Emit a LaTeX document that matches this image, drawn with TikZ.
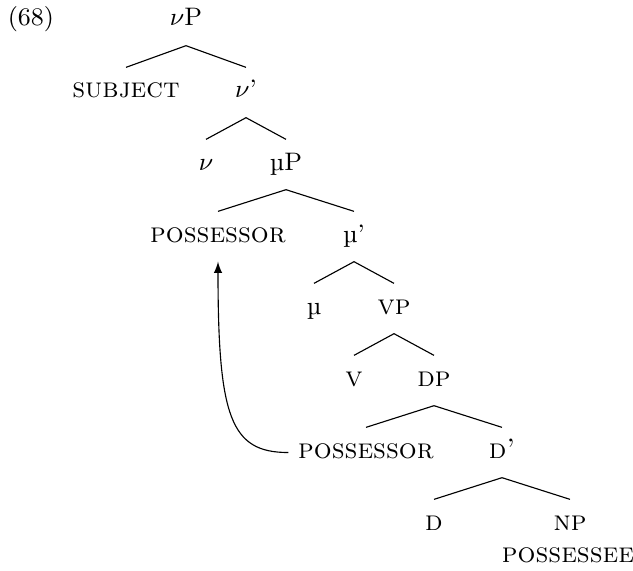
\documentclass[tikz,border=0pt]{standalone}
\newcommand{\lsc}[1]{{\normalsize\textsc{#1}}}
\tikzset{
	lbl/.style={anchor=base, text height=7.7pt, text depth=3.8pt, inner ysep=3pt},
}
\begin{document}
\begin{tikzpicture}[font=\small]
		\useasboundingbox (0,0) rectangle (7.9125,7.125);

		\node [anchor=base west, inner sep=0pt] (ex) at (0.09,6.8) {(68)};

		\node [lbl] (vP)    at (2.325,6.8) {$\nu$P};
		\node [lbl] (subj)  at (1.575,5.9) {\lsc{subject}};
		\node [lbl] (vbar)  at (3.075,5.9) {$\nu$'};
		\node [lbl] (v)     at (2.575,5.0) {$\nu$};
		\node [lbl] (muP)   at (3.575,5.0) {\textmu P};
		\node [lbl] (poss1) at (2.725,4.1) {\lsc{possessor}};
		\node [lbl] (mubar) at (4.425,4.1) {\textmu'};
		\node [lbl] (mu)    at (3.925,3.2) {\textmu};
		\node [lbl] (VP)    at (4.925,3.2) {\lsc{vp}};
		\node [lbl] (V)     at (4.425,2.3) {\lsc{v}};
		\node [lbl] (DP)    at (5.425,2.3) {\lsc{dp}};
		\node [lbl] (poss2) at (4.575,1.4) {\lsc{possessor}};
		\node [lbl] (Dbar)  at (6.275,1.4) {\lsc{d'}};
		\node [lbl] (D)     at (5.425,0.5) {\lsc{d}};
		\node [lbl] (NP)    at (7.125,0.5) {\lsc{np}};
		\node [lbl] (poss3) at (7.1,0.09) {\lsc{possessee}};

		\foreach \mother/\daughter in {vP/subj, vP/vbar, vbar/v, vbar/muP, muP/poss1, muP/mubar,
				mubar/mu, mubar/VP, VP/V, VP/DP, DP/poss2, DP/Dbar, Dbar/D, Dbar/NP} {
			\draw (\mother.south) -- (\daughter.north);
		}

		\draw [-latex] (poss2.west) .. controls +(-0.72,0) and +(0,-1.95) .. (poss1.south);
	\end{tikzpicture}
\end{document}
